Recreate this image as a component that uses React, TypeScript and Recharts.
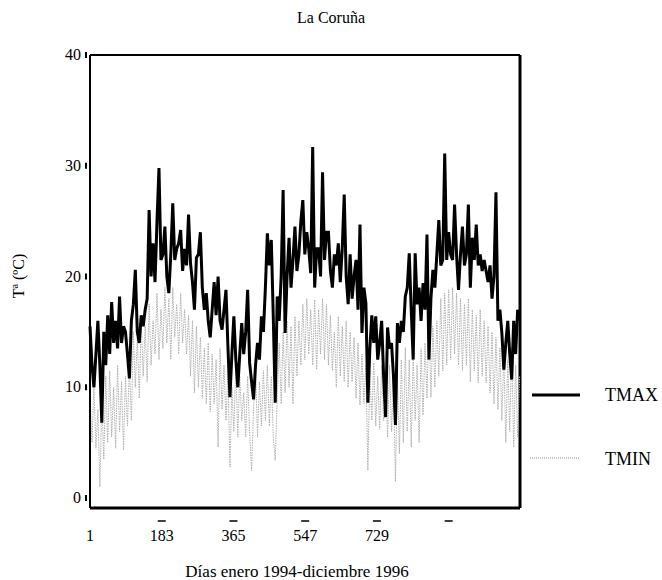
import React from 'react';
import { LineChart, Line, XAxis, YAxis, ReferenceLine } from 'recharts';

// Muestreo cada 5 días (día 1, 6, 11, ...)
const STEP = 5;

const tmax = [
  15.5, 12, 10, 13, 16, 12, 6.8, 15, 12, 16.5,
  13, 17.7, 14, 16, 13.5, 18.2, 14, 15.5, 15, 13,
  10.8, 16, 17.5, 20.6, 15, 14, 16.5, 15.5, 17, 18,
  26, 20, 23, 19.5, 25, 29.8, 21.5, 22, 24.5, 20,
  18.5, 22, 26.6, 21.5, 22.5, 23, 24.2, 20.5, 22.5, 21,
  25.6, 21.2, 19.5, 17, 21.7, 22, 24, 19, 17, 18.5,
  16, 14.5, 17, 19.5, 16.5, 20, 16, 15.2, 17, 18.8,
  13.6, 9.1, 13, 16.4, 12.5, 10, 13, 15.8, 13, 15,
  18.8, 12.2, 10.5, 8.9, 12, 14, 12.5, 16.4, 15, 19,
  23.9, 21, 23.3, 16.4, 8.6, 18.2, 16, 20, 27.8, 14.9,
  20, 23.5, 19, 21.5, 24.5, 20.5, 22, 25, 26.9, 22,
  24, 22.5, 20.3, 31.7, 19, 22.5, 22.5, 20, 29.4, 21.5,
  24, 24, 20.5, 19, 22, 21, 23, 19.5, 22.5, 27.4,
  20, 17.5, 22, 18, 20, 21.5, 17, 24.7, 14.9, 19,
  17.6, 8.6, 13.5, 16.5, 14, 16.4, 12.5, 14, 16, 11,
  7.3, 15.4, 13.5, 14, 11, 6.6, 15.8, 14, 16, 15,
  18.2, 19, 22.1, 17, 12.5, 22.1, 17.5, 19, 16, 19.4,
  17, 23.8, 12.5, 18, 20.6, 19, 22, 25.1, 21, 21.5,
  31.1, 21.5, 24, 22, 21.5, 26.5, 22, 18.8, 22, 24.5,
  21, 22, 26.5, 19, 23.5, 21.5, 24.7, 21, 22, 20.5,
  21.5, 20.5, 19.5, 21, 18, 20, 27.6, 16, 17, 14.9,
  11.6, 14, 16, 13, 10.7, 16, 13, 17, 16,
];

const tmin = [
  9.5, 5, 10, 4.5, 8, 1, 9, 3.5, 11, 5,
  11.5, 5.5, 10, 4.5, 12, 6, 10.5, 4.3, 11, 6.5,
  12, 7, 15, 10, 14.5, 9, 16, 11, 15.5, 10.5,
  17.5, 12, 16, 13, 18.5, 12.5, 17, 13.5, 19, 14,
  18, 12.5, 19, 14.5, 17.5, 13, 18.5, 14, 17, 13,
  16.5, 11, 16, 9.5, 15.5, 10, 14.5, 9, 13.5, 8.5,
  14, 7.8, 13, 8.5, 12.5, 4.6, 13.5, 8, 12, 7,
  11.5, 2.8, 10, 6, 12, 5.5, 11, 7, 9.5, 5.5,
  11, 6, 2.5, 8, 12, 5.5, 10.5, 6.5, 11.5, 7,
  12, 6.5, 11, 5.5, 3.4, 9, 14, 8.5, 15, 9.5,
  16, 10, 15.5, 8.5, 16.4, 11, 16, 12, 17.5, 12.5,
  18, 13, 17, 12, 17.9, 11.6, 17, 13, 18, 12.5,
  17.5, 12, 16.5, 11.5, 15, 10, 16.4, 11, 15.5, 10.5,
  16, 10, 15, 10.5, 14.5, 9, 14, 8.4, 13, 8.5,
  12, 2.5, 11.5, 7, 12.2, 6.5, 11, 6.2, 12, 7,
  11.5, 5.5, 12, 6, 10.5, 1.5, 11, 4, 12.5, 5,
  13.6, 6, 12.5, 4.6, 13, 7, 12, 5, 13.5, 7.5,
  14, 9, 16.4, 9.1, 15.5, 10, 16, 11, 18, 11.5,
  18.5, 12, 18.8, 12.5, 19, 13, 18.5, 12, 18, 11.5,
  17.5, 12, 18, 10.5, 17, 11.5, 16.5, 10.4, 17, 11,
  16, 10.4, 15.5, 9.5, 15, 8.5, 14.5, 8, 13.6, 7,
  13, 5, 12.5, 6, 13.6, 4.6, 12, 5.5, 11,
];

const xTicks = [1, 183, 365, 547, 729, 911];
const xTickLabels = ['1', '183', '365', '547', '729', ''];
const yTicks = [0, 10, 20, 30, 40];

const data = tmax.map((v, i) => ({ dia: 1 + i * STEP, tmax: v, tmin: tmin[i] }));

const font = "'Liberation Serif', 'Times New Roman', serif";

const XTick = (props: any) => {
  const { x, y, payload, index } = props;
  const label = xTickLabels[index] ?? '';
  return (
    <g>
      {payload.value !== 1 && (
        <line x1={x - 4} x2={x + 4} y1={y + 5} y2={y + 5} stroke="#000" strokeWidth={1.5} />
      )}
      <text x={x} y={y + 25} textAnchor="middle" fontSize={16} fontFamily={font} fill="#000">
        {label}
      </text>
    </g>
  );
};

const YTick = (props: any) => {
  const { x, y, payload } = props;
  return (
    <g>
      <line x1={x + 4} x2={x + 4} y1={y - 3} y2={y + 3} stroke="#000" strokeWidth={2} />
      <text x={x - 1} y={y + 5} textAnchor="end" fontSize={16} fontFamily={font} fill="#000">
        {payload.value}
      </text>
    </g>
  );
};

export default function App() {
  return (
    <div style={{ position: 'absolute', left: 0, top: 0, width: 662, height: 580, background: '#fff', fontFamily: font }}>
      <div style={{ position: 'absolute', left: 0, width: 662, top: 9, textAlign: 'center', fontSize: 16 }}>
        La Coruña
      </div>
      <LineChart width={662} height={580} data={data} margin={{ top: 55, right: 142, bottom: 32, left: 50 }}>
        <XAxis
          dataKey="dia"
          type="number"
          domain={[1, 1092]}
          ticks={xTicks}
          interval={0}
          height={40}
          tick={<XTick />}
          tickLine={false}
          axisLine={{ stroke: '#000', strokeWidth: 3 }}
          label={{
            content: () => (
              <text x={297} y={577} textAnchor="middle" fontSize={17} fontFamily={font} fill="#000">
                Días enero 1994-diciembre 1996
              </text>
            ),
          }}
        />
        <YAxis
          type="number"
          domain={[-0.9, 40]}
          ticks={yTicks}
          interval={0}
          width={40}
          tick={<YTick />}
          tickLine={false}
          axisLine={{ stroke: '#000', strokeWidth: 2 }}
          label={{
            content: () => (
              <text x={24} y={276} transform="rotate(-90 24 276)" textAnchor="middle" fontSize={16} fontFamily={font} fill="#000">
                Tª (ºC)
              </text>
            ),
          }}
        />
        <ReferenceLine y={40} stroke="#000" strokeWidth={2} />
        <ReferenceLine x={1092} stroke="#000" strokeWidth={3} />
        <Line dataKey="tmin" stroke="#b0b0b0" strokeWidth={1} strokeDasharray="1.5 1" dot={false} isAnimationActive={false} />
        <Line dataKey="tmax" stroke="#000" strokeWidth={3} strokeLinejoin="miter" dot={false} isAnimationActive={false} />
      </LineChart>
      <svg width={132} height={110} style={{ position: 'absolute', left: 530, top: 370 }}>
        <line x1={2} x2={50} y1={25} y2={25} stroke="#000" strokeWidth={3} />
        <text x={75} y={31} fontSize={18} fontFamily={font} fill="#000">TMAX</text>
        <line x1={0} x2={50} y1={88} y2={88} stroke="#b5b5b5" strokeWidth={1.5} strokeDasharray="1 1" />
        <text x={75} y={95} fontSize={18} fontFamily={font} fill="#000">TMIN</text>
      </svg>
    </div>
  );
}
